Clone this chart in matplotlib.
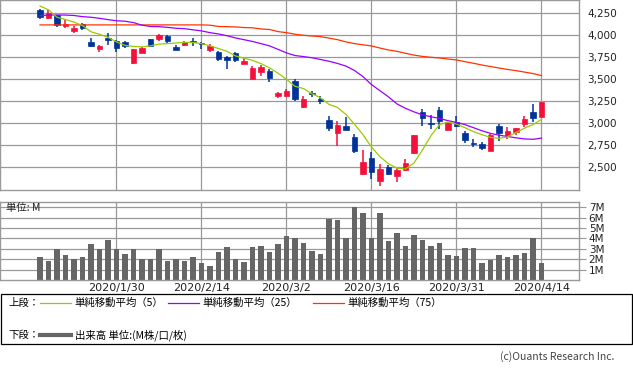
import matplotlib
matplotlib.use("Agg")
import matplotlib.pyplot as plt
import numpy as np

plt.rcParams['font.family'] = ['DejaVu Sans', 'Noto Sans CJK JP']

# 営業日 (1/17 - 4/14)
dates = ['1/17', '1/20', '1/21', '1/22', '1/23', '1/24', '1/27', '1/28', '1/29', '1/30',
         '1/31', '2/3', '2/4', '2/5', '2/6', '2/7', '2/10', '2/12', '2/13', '2/14',
         '2/17', '2/18', '2/19', '2/20', '2/21', '2/25', '2/26', '2/27', '2/28', '3/2',
         '3/3', '3/4', '3/5', '3/6', '3/9', '3/10', '3/11', '3/12', '3/13', '3/16',
         '3/17', '3/18', '3/19', '3/23', '3/24', '3/25', '3/26', '3/27', '3/30', '3/31',
         '4/1', '4/2', '4/3', '4/6', '4/7', '4/8', '4/9', '4/10', '4/13', '4/14']

opens = [4288, 4201, 4227, 4110, 4049, 4129, 3924, 3845, 3973, 3936,
         3920, 3689, 3799, 3955, 3955, 3992, 3867, 3890, 3936, 3905,
         3833, 3811, 3754, 3795, 3678, 3500, 3580, 3598, 3307, 3314,
         3485, 3186, 3337, 3277, 3038, 2894, 2970, 2849, 2424, 2606,
         2348, 2508, 2405, 2466, 2659, 3129, 3000, 3152, 2924, 3015,
         2890, 2769, 2769, 2689, 2970, 2867, 2905, 2992, 3129, 3068]
highs = [4295, 4288, 4235, 4174, 4106, 4144, 3970, 3890, 4027, 3943,
         3936, 3845, 3871, 3955, 4015, 4004, 3890, 3939, 3970, 3920,
         3905, 3826, 3765, 3811, 3746, 3648, 3659, 3621, 3360, 3390,
         3504, 3311, 3367, 3314, 3083, 3030, 3076, 2875, 2693, 2670,
         2538, 2527, 2489, 2595, 2867, 3159, 3091, 3186, 3015, 3083,
         2917, 2826, 2788, 2878, 2996, 2958, 2947, 3083, 3216, 3246]
lows = [4186, 4186, 4098, 4087, 4030, 4061, 3871, 3811, 3894, 3811,
        3856, 3678, 3799, 3871, 3932, 3909, 3837, 3879, 3883, 3845,
        3814, 3712, 3617, 3697, 3678, 3500, 3534, 3470, 3284, 3310,
        3258, 3178, 3299, 3220, 2917, 2746, 2928, 2659, 2413, 2367,
        2291, 2413, 2333, 2455, 2652, 2970, 2936, 2936, 2924, 2962,
        2780, 2731, 2697, 2682, 2799, 2818, 2871, 2955, 3015, 3068]
closes = [4212, 4250, 4117, 4129, 4087, 4087, 3883, 3879, 3947, 3860,
          3875, 3841, 3856, 3879, 4000, 3939, 3837, 3924, 3920, 3898,
          3883, 3735, 3723, 3720, 3708, 3629, 3636, 3515, 3348, 3371,
          3277, 3277, 3330, 3258, 2947, 2977, 2928, 2686, 2561, 2447,
          2481, 2428, 2473, 2549, 2867, 3061, 2995, 3030, 3008, 2970,
          2814, 2765, 2723, 2867, 2894, 2913, 2947, 3053, 3064, 3246]

ma5 = [4333, 4290, 4205, 4180, 4150, 4110, 4040, 4011, 3977, 3925,
       3885, 3873, 3868, 3880, 3900, 3905, 3912, 3920, 3918, 3905,
       3880, 3850, 3818, 3765, 3740, 3715, 3678, 3630, 3570, 3500,
       3420, 3395, 3335, 3290, 3215, 3180, 3100, 2990, 2870, 2730,
       2620, 2540, 2490, 2480, 2550, 2697, 2860, 2985, 3015, 2990,
       2950, 2905, 2870, 2840, 2830, 2845, 2895, 2945, 2985, 3045]
ma25 = [4223, 4230, 4231, 4230, 4225, 4212, 4205, 4193, 4178, 4165,
        4160, 4144, 4115, 4100, 4098, 4090, 4080, 4075, 4062, 4050,
        4030, 4015, 3995, 3970, 3950, 3930, 3905, 3880, 3840, 3800,
        3770, 3758, 3745, 3725, 3705, 3680, 3650, 3600, 3530, 3440,
        3370, 3300, 3220, 3170, 3130, 3095, 3075, 3055, 3030, 3010,
        2985, 2950, 2915, 2885, 2865, 2850, 2835, 2822, 2818, 2832]
ma75 = [4118, 4118, 4118, 4118, 4118, 4118, 4118, 4118, 4118, 4118,
        4118, 4118, 4118, 4118, 4118, 4118, 4118, 4118, 4118, 4118,
        4115, 4100, 4098, 4095, 4088, 4085, 4072, 4066, 4042, 4030,
        4012, 4000, 3992, 3985, 3968, 3950, 3925, 3905, 3892, 3879,
        3855, 3833, 3818, 3795, 3775, 3760, 3750, 3742, 3730, 3720,
        3700, 3682, 3662, 3645, 3628, 3612, 3598, 3582, 3565, 3542]

# 出来高 (M)
volume = [2.2, 1.8, 2.96, 2.45, 2.0, 2.2, 3.5, 3.03, 3.9, 2.96,
          2.55, 2.96, 2.07, 2.0, 2.96, 1.8, 2.0, 1.88, 2.26, 1.7,
          1.4, 2.74, 3.2, 2.07, 1.78, 3.2, 3.3, 2.74, 3.5, 4.27,
          4.08, 3.6, 2.83, 2.55, 5.9, 5.8, 4.0, 7.04, 6.46, 4.0,
          6.46, 3.8, 4.55, 3.3, 4.36, 3.9, 3.3, 3.6, 2.45, 2.36,
          3.12, 3.12, 1.7, 1.97, 2.45, 2.26, 2.45, 2.64, 4.0, 1.7]

xtick_labels = ['2020/1/30', '2020/2/14', '2020/3/2', '2020/3/16', '2020/3/31', '2020/4/14']
price_ticks = [2500, 2750, 3000, 3250, 3500, 3750, 4000, 4250]

UP = '#f5103c'
DOWN = '#003399'
GRID = '#999999'

W, H = 633, 374
fig = plt.figure(figsize=(W / 100, H / 100), dpi=100)

x = np.arange(len(dates))
xt = [dates.index(d.split('/', 1)[1]) for d in xtick_labels]
xlim = (-40 / 8.5, 539 / 8.5)

# 上段 ローソク足
ax = fig.add_axes([0, 1 - 190 / H, 579 / W, 190 / H])
ax.set_xlim(*xlim)
ax.set_ylim(2242, 4401)
for t in price_ticks:
    ax.axhline(t, color=GRID, lw=0.9, zorder=0)
for t in xt:
    ax.axvline(t, color=GRID, lw=0.9, zorder=0)

o = np.array(opens); c = np.array(closes)
cols = [UP if cc >= oo else DOWN for oo, cc in zip(opens, closes)]
ax.vlines(x, lows, highs, colors=cols, lw=1.1, zorder=2)
body_h = np.maximum(np.abs(c - o), 12)
body_b = np.minimum(o, c)
ax.bar(x, body_h, bottom=body_b, width=0.68, color=cols, edgecolor=cols, lw=0.5, zorder=3)

ax.plot(x, ma75, color='#ff3300', lw=0.9, zorder=4)
ax.plot(x, ma25, color='#9900ff', lw=0.9, zorder=4)
ax.plot(x, ma5, color='#99cc00', lw=0.9, zorder=4)

ax.yaxis.tick_right()
ax.set_yticks(price_ticks)
ax.set_yticklabels(['{:,}'.format(t) for t in price_ticks], fontsize=7.5, color='#222222')
ax.tick_params(axis='y', length=0, pad=6)
ax.set_xticks([])
for s in ax.spines.values():
    s.set_color(GRID)
    s.set_linewidth(1)

# 下段 出来高
axv = fig.add_axes([0, 1 - 280.3 / H, 579 / W, 78.3 / H])
axv.set_xlim(*xlim)
axv.set_ylim(0, 7.49)
for t in range(1, 8):
    axv.axhline(t, color=GRID, lw=0.9, zorder=0)
for t in xt:
    axv.axvline(t, color=GRID, lw=0.9, zorder=0)
axv.bar(x, volume, width=0.7, color='#666666', zorder=2)
axv.yaxis.tick_right()
axv.set_yticks(range(1, 8))
axv.set_yticklabels(['%dM' % t for t in range(1, 8)], fontsize=7.5, color='#222222')
axv.tick_params(axis='y', length=5, color=GRID, pad=2)
axv.set_xticks(xt)
axv.set_xticklabels(xtick_labels, fontsize=8, color='#222222')
axv.tick_params(axis='x', length=0, pad=2)
for s in axv.spines.values():
    s.set_color(GRID)
    s.set_linewidth(1)
axv.text(6 / 579, 0.92, '単位: M', transform=axv.transAxes, fontsize=7.5,
         va='center', ha='left', color='#222222',
         family=['Noto Sans CJK JP', 'DejaVu Sans'])

# 凡例
lg = fig.add_axes([0, 0, 1, 1])
lg.set_xlim(0, W)
lg.set_ylim(H, 0)
lg.axis('off')
lg.patch.set_alpha(0)
lg.add_patch(plt.Rectangle((0.5, 294), 631.5, 50, fill=False, ec='black', lw=0.9))
jp = ['Noto Sans CJK JP', 'DejaVu Sans']
lg.text(8, 303, '上段：', fontsize=7.5, va='center', family=jp)
legend_items = [(40, '#99cc00', '単純移動平均（5）'),
                (168, '#9900ff', '単純移動平均（25）'),
                (313, '#ff3300', '単純移動平均（75）')]
for x0, col, lab in legend_items:
    lg.plot([x0, x0 + 31], [303, 303], color=col, lw=0.9)
    lg.text(x0 + 34, 303, lab, fontsize=7.5, va='center', family=jp)
lg.text(8, 335, '下段：', fontsize=7.5, va='center', family=jp)
lg.plot([40, 71], [335, 335], color='#666666', lw=3)
lg.text(75, 335, '出来高 単位:(M株/口/枚)', fontsize=7.5, va='center', family=jp)
lg.text(614, 357, '(c)Ouants Research Inc.', fontsize=7.5, ha='right', va='center',
        color='#444444', family=jp)

fig.savefig('out.png', dpi=100)
